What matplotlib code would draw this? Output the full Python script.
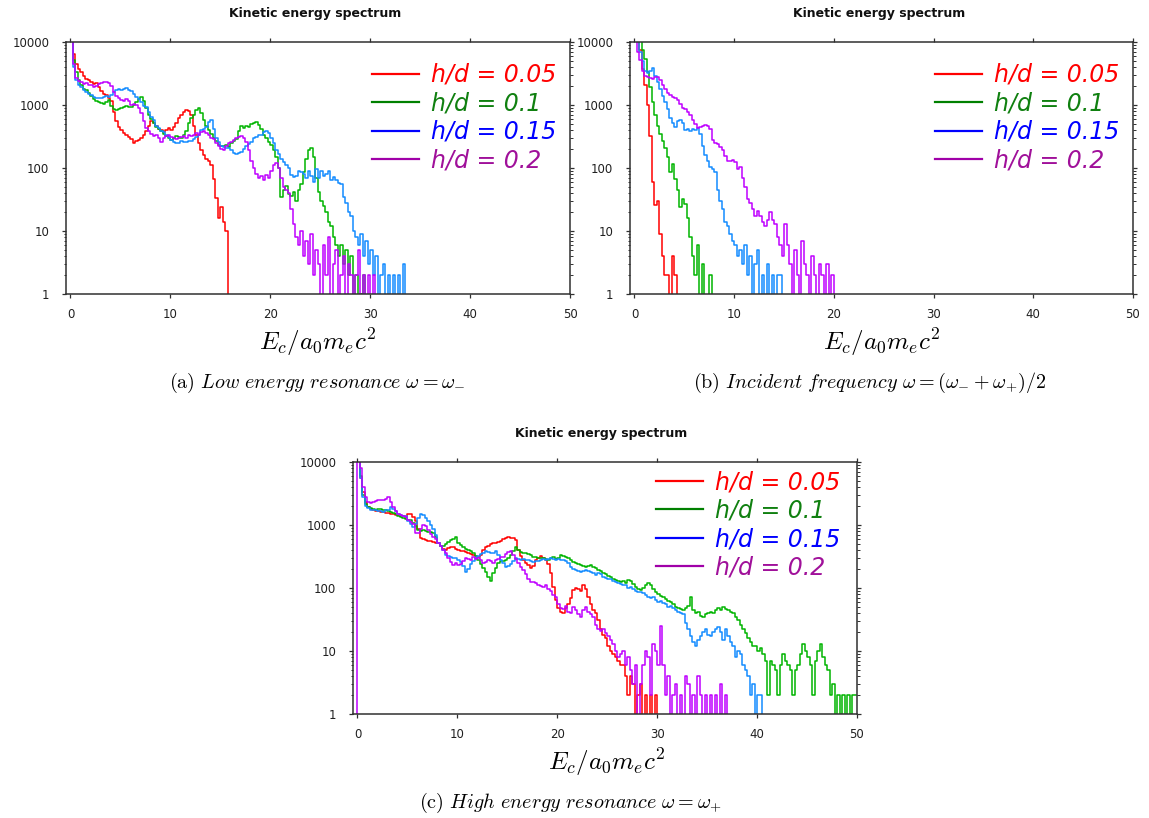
import numpy as np
import matplotlib
matplotlib.use("Agg")
import matplotlib.pyplot as plt
from matplotlib import ticker
from matplotlib.lines import Line2D

plt.rcParams['mathtext.fontset'] = 'cm'
plt.rcParams['font.family'] = 'DejaVu Sans'

# histogram bin width in units of a0*me*c^2
bin_width = 0.25

labels = ["h/d = 0.05", "h/d = 0.1", "h/d = 0.15", "h/d = 0.2"]
line_colors = ['#ff0000', '#00b400', '#148cff', '#bf00ff']
key_colors = ['#ff0000', '#008000', '#0000ff', '#a000a8']
text_colors = ['#ff0000', '#108010', '#0000ff', '#a0109a']

# (a) low energy resonance
a_red = [14000, 6500, 4400, 3700, 3300, 2900, 2600, 2450, 2300, 2150, 2250, 1900, 1650, 1500, 1420, 1300,
         1150, 780, 560, 440, 400, 365, 330, 310, 285, 250, 265, 280, 300, 335, 380, 460,
         560, 520, 460, 420, 395, 375, 400, 425, 405, 450, 520, 620, 700, 780, 830, 790,
         690, 470, 330, 250, 190, 160, 140, 128, 112, 68, 34, 16, 24, 14, 10, 0]
a_green = [12000, 5200, 3300, 2500, 2050, 1800, 1700, 1550, 1400, 1250, 1150, 1100, 1080, 1050, 1120, 1180,
           960, 870, 820, 860, 900, 930, 950, 920, 940, 1000, 1100, 1260, 1350, 1150, 900, 700,
           600, 520, 445, 410, 380, 350, 320, 295, 280, 300, 325, 310, 300, 330, 390, 520,
           620, 700, 820, 880, 760, 580, 460, 400, 350, 300, 270, 235, 225, 220, 232, 218,
           250, 270, 290, 380, 460, 430, 470, 440, 500, 520, 530, 480, 420, 340, 300, 260,
           230, 190, 150, 100, 35, 45, 52, 38, 36, 42, 30, 45, 55, 85, 140, 190,
           210, 150, 70, 42, 30, 25, 20, 14, 12, 8, 6, 4, 6, 3, 5, 2,
           4, 0, 2, 0, 1, 2, 0]
a_blue = [12000, 4000, 2500, 2100, 1900, 1750, 1600, 1500, 1420, 1350, 1300, 1270, 1300, 1350, 1400, 1350,
          1450, 1600, 1700, 1780, 1750, 1800, 1830, 1700, 1650, 1500, 1350, 1250, 1120, 960, 920, 780,
          650, 580, 470, 430, 390, 370, 330, 310, 275, 255, 245, 250, 265, 260, 255, 265,
          270, 290, 310, 330, 400, 420, 450, 530, 580, 420, 300, 260, 220, 215, 205, 210,
          190, 175, 168, 175, 180, 200, 220, 240, 260, 300, 310, 330, 335, 370, 380, 360,
          300, 250, 190, 165, 140, 125, 110, 100, 78, 72, 75, 90, 85, 80, 70, 90,
          75, 60, 95, 70, 88, 75, 80, 90, 65, 72, 65, 58, 55, 35, 28, 20,
          17, 10, 8, 6, 9, 4, 7, 3, 5, 2, 4, 0, 2, 3, 0, 2,
          0, 2, 0, 2, 0, 3, 0]
a_purple = [12000, 4500, 2700, 2400, 2300, 2150, 2200, 2100, 2050, 1950, 2000, 2150, 2250, 2300, 2350, 2250,
            2000, 1600, 1400, 1300, 1200, 1150, 1250, 1150, 1000, 1050, 1000, 900, 750, 550, 430, 380,
            350, 320, 340, 300, 260, 300, 320, 330, 315, 300, 290, 295, 310, 320, 300, 330,
            320, 340, 360, 340, 370, 380, 360, 340, 300, 290, 250, 220, 200, 190, 220, 250,
            260, 280, 300, 310, 320, 300, 260, 190, 130, 100, 80, 70, 75, 65, 78, 70,
            90, 110, 120, 100, 70, 50, 45, 40, 22, 13, 8, 6, 10, 4, 7, 3,
            9, 2, 5, 3, 0, 6, 2, 8, 0, 3, 5, 0, 2, 4, 0, 3,
            2, 0, 2, 5, 0, 2, 0, 2, 0, 2, 0]

# (b) incident frequency
b_red = [15000, 12000, 7500, 3700, 2100, 1000, 320, 60, 26, 30, 9, 4, 2, 2, 0, 4,
         2, 0]
b_green = [15000, 13000, 11000, 7500, 5400, 3300, 1900, 1100, 700, 470, 350, 270, 210, 150, 85, 115,
           68, 45, 24, 32, 27, 16, 8, 4, 2, 6, 0, 3, 0, 0, 2, 0]
b_blue = [14000, 11000, 7000, 5000, 3500, 3200, 3500, 3800, 2900, 2300, 1800, 1400, 1100, 850, 620, 520,
          450, 560, 580, 520, 400, 420, 380, 410, 400, 430, 350, 220, 160, 130, 105, 95,
          85, 45, 30, 22, 14, 12, 9, 7, 6, 4, 5, 3, 6, 2, 4, 0,
          3, 5, 0, 2, 0, 3, 0, 2, 0, 2, 2, 0]
b_purple = [14000, 7000, 5200, 3500, 2900, 2800, 2650, 2600, 2750, 2800, 2500, 2100, 1800, 1550, 1450, 1350,
            1300, 1200, 1050, 900, 850, 780, 700, 580, 500, 430, 440, 460, 480, 470, 410, 280,
            250, 240, 215, 190, 155, 130, 128, 135, 125, 95, 105, 70, 50, 32, 28, 22,
            17, 21, 17, 14, 12, 15, 20, 15, 13, 8, 6, 4, 13, 6, 3, 0,
            5, 2, 0, 7, 3, 2, 0, 4, 2, 0, 3, 2, 0, 3, 0, 2,
            0]

# (c) high energy resonance
c_red = [14000, 5500, 3300, 2300, 1900, 1800, 1720, 1680, 1650, 1620, 1600, 1560, 1540, 1510, 1480, 1460,
         1420, 1380, 1370, 1350, 1500, 1520, 1350, 1150, 850, 620, 590, 570, 560, 550, 540, 520,
         510, 460, 420, 400, 430, 440, 450, 410, 400, 390, 380, 370, 355, 345, 330, 325,
         316, 330, 400, 440, 460, 500, 510, 520, 540, 560, 600, 630, 640, 620, 615, 570,
         400, 320, 280, 245, 230, 205, 220, 275, 300, 320, 300, 275, 240, 170, 105, 65,
         48, 42, 40, 48, 55, 70, 93, 100, 95, 90, 110, 95, 72, 55, 45, 40,
         31, 22, 18, 16, 12, 10, 9, 8, 7, 6, 6, 4, 2, 4, 3, 0,
         2, 3, 0, 2, 0, 2, 0, 2, 0]
c_green = [14000, 6000, 3000, 2150, 1950, 1830, 1780, 1700, 1780, 1820, 1720, 1700, 1650, 1620, 1550, 1500,
           1400, 1350, 1300, 1260, 1220, 1200, 1080, 950, 830, 800, 830, 790, 775, 780, 760, 640,
           520, 460, 470, 500, 530, 570, 600, 640, 520, 480, 450, 420, 400, 380, 355, 320,
           275, 240, 205, 180, 150, 130, 170, 210, 245, 265, 270, 280, 300, 330, 380, 450,
           400, 370, 355, 360, 350, 330, 316, 305, 300, 295, 300, 285, 275, 300, 316, 290,
           300, 330, 320, 316, 300, 275, 260, 245, 240, 230, 225, 218, 225, 230, 215, 205,
           195, 188, 175, 165, 155, 150, 140, 135, 128, 125, 130, 120, 135, 130, 115, 105,
           95, 92, 100, 110, 118, 110, 95, 85, 80, 75, 72, 68, 62, 60, 55, 50,
           48, 46, 45, 48, 52, 73, 45, 40, 42, 36, 35, 38, 40, 42, 40, 45,
           48, 44, 50, 46, 45, 42, 40, 35, 31, 26, 22, 19, 16, 14, 12, 12,
           10, 11, 9, 7, 2, 7, 6, 5, 2, 6, 9, 7, 6, 5, 2, 5,
           6, 9, 13, 10, 8, 6, 2, 7, 10, 13, 8, 6, 5, 2, 3, 0,
           2, 0, 2, 0, 2, 0, 2, 2]
c_blue = [14000, 5500, 2800, 2000, 1850, 1750, 1700, 1700, 1680, 1640, 1620, 1700, 1750, 1950, 1800, 1650,
          1500, 1450, 1400, 1380, 1150, 1050, 930, 1050, 1300, 1520, 1450, 1300, 1150, 1000, 850, 700,
          520, 460, 400, 340, 320, 316, 300, 295, 280, 260, 220, 180, 200, 240, 270, 300,
          320, 345, 360, 380, 370, 355, 365, 380, 330, 280, 245, 218, 225, 240, 265, 295,
          290, 280, 285, 280, 275, 265, 260, 265, 270, 280, 285, 280, 290, 295, 290, 280,
          285, 280, 275, 265, 250, 218, 200, 190, 185, 180, 185, 190, 185, 180, 170, 160,
          172, 165, 150, 145, 140, 138, 130, 125, 118, 115, 110, 112, 100, 105, 95, 90,
          87, 85, 82, 78, 73, 70, 72, 65, 60, 62, 58, 55, 50, 52, 48, 45,
          42, 40, 38, 28, 22, 17, 14, 12, 15, 17, 20, 22, 18, 17, 20, 22,
          24, 20, 15, 22, 17, 14, 12, 8, 10, 9, 6, 5, 4, 2, 3, 0,
          2, 2, 0]
# first purple bin sits just below zero energy and is empty
c_purple = [0, 14000, 8000, 4000, 2800, 2300, 2200, 2350, 2400, 2450, 2480, 2500, 2600, 2800, 2300, 1950,
            1650, 1500, 1450, 1400, 1320, 1200, 1100, 1050, 760, 740, 850, 1000, 950, 820, 720, 650,
            610, 520, 460, 400, 360, 300, 260, 230, 245, 235, 240, 265, 300, 285, 280, 316,
            285, 295, 280, 245, 260, 280, 265, 245, 275, 290, 305, 316, 345, 370, 380, 330,
            285, 250, 215, 190, 165, 140, 126, 125, 118, 112, 108, 104, 110, 98, 88, 78,
            73, 55, 48, 46, 52, 42, 40, 50, 45, 38, 35, 45, 50, 42, 38, 35,
            26, 22, 21, 22, 19, 17, 15, 13, 10, 8, 9, 10, 6, 8, 5, 3,
            6, 0, 3, 6, 10, 8, 2, 13, 10, 6, 25, 6, 2, 4, 0, 2,
            3, 0, 2, 0, 4, 3, 0, 2, 0, 4, 2, 0, 2, 0, 2, 0,
            2, 0, 3, 0, 2, 0]

panels = [
    dict(rect=[66, 42, 504, 252], series=[a_red, a_green, a_blue, a_purple], starts=[0, 0, 0, 0],
         title=(315, 14), xlabel=(318, 342),
         caption=(317, 383, r'$\mathrm{(a)}\ \mathit{Low\ energy\ resonance}\ \omega = \omega_{-}$'),
         legend_anchor=(1.0, 0.973)),
    dict(rect=[630, 42, 503, 252], series=[b_red, b_green, b_blue, b_purple], starts=[0, 0, 0, 0],
         title=(879, 14), xlabel=(882, 342),
         caption=(870, 383, r'$\mathrm{(b)}\ \mathit{Incident\ frequency}\ \omega = (\omega_{-} + \omega_{+})/2$'),
         legend_anchor=(1.0, 0.973)),
    dict(rect=[353, 462, 504, 252], series=[c_red, c_green, c_blue, c_purple], starts=[0, 0, 0, -bin_width],
         title=(601, 434), xlabel=(607, 762),
         caption=(570, 803, r'$\mathrm{(c)}\ \mathit{High\ energy\ resonance}\ \omega = \omega_{+}$'),
         legend_anchor=(0.995, 1.024)),
]

W, H = 1149, 818
fig = plt.figure(figsize=(W / 100, H / 100), dpi=100)

for p in panels:
    x0, y0, w, h = p['rect']
    ax = fig.add_axes([x0 / W, 1 - (y0 + h) / H, w / W, h / H])

    for counts, start, col in zip(p['series'], p['starts'], line_colors):
        counts = np.asarray(counts, dtype=float)
        energy = start + bin_width * (np.arange(len(counts)) + 0.5)
        ax.plot(energy, counts, drawstyle='steps-mid', color=col, lw=1.1)

    ax.set_yscale('log', nonpositive='clip')
    ax.set_ylim(1, 10000)
    ax.set_xlim(-0.45, 50)
    ax.set_xticks([0, 10, 20, 30, 40, 50])
    ax.set_yticks([1, 10, 100, 1000, 10000])
    ax.yaxis.set_major_formatter(ticker.FuncFormatter(lambda v, pos: f'{v:g}'))
    ax.yaxis.set_minor_locator(ticker.LogLocator(base=10, subs=np.arange(2, 10)))
    ax.yaxis.set_minor_formatter(ticker.NullFormatter())
    ax.tick_params(which='both', direction='out', top=True, right=True, color='#303030')
    ax.tick_params(which='major', length=3, width=0.9, labelsize=8.5, labelcolor='#202020')
    ax.tick_params(which='minor', length=1.8, width=0.7)
    ax.tick_params(axis='x', pad=7)
    ax.tick_params(axis='y', pad=9)
    for s in ax.spines.values():
        s.set_color('#303030')
        s.set_linewidth(1.1)

    handles = [Line2D([], [], color=c, lw=1.6) for c in key_colors]
    ax.legend(handles, labels, loc='upper right', bbox_to_anchor=p['legend_anchor'],
              frameon=False, handlelength=2.0, handletextpad=0.5, labelspacing=0.19,
              borderaxespad=0.2, prop=dict(size=17, style='italic'), labelcolor=text_colors)

    tx, ty = p['title']
    fig.text(tx / W, 1 - ty / H, 'Kinetic energy spectrum', ha='center', va='center',
             fontsize=9, fontweight='bold', color='#101010')
    lx, ly = p['xlabel']
    fig.text(lx / W, 1 - ly / H, r'$E_c/a_0m_ec^2$', ha='center', va='center', fontsize=18)
    cx, cy, ctext = p['caption']
    fig.text(cx / W, 1 - cy / H, ctext, ha='center', va='center', fontsize=14.5)

fig.savefig('out.png', dpi=100)
